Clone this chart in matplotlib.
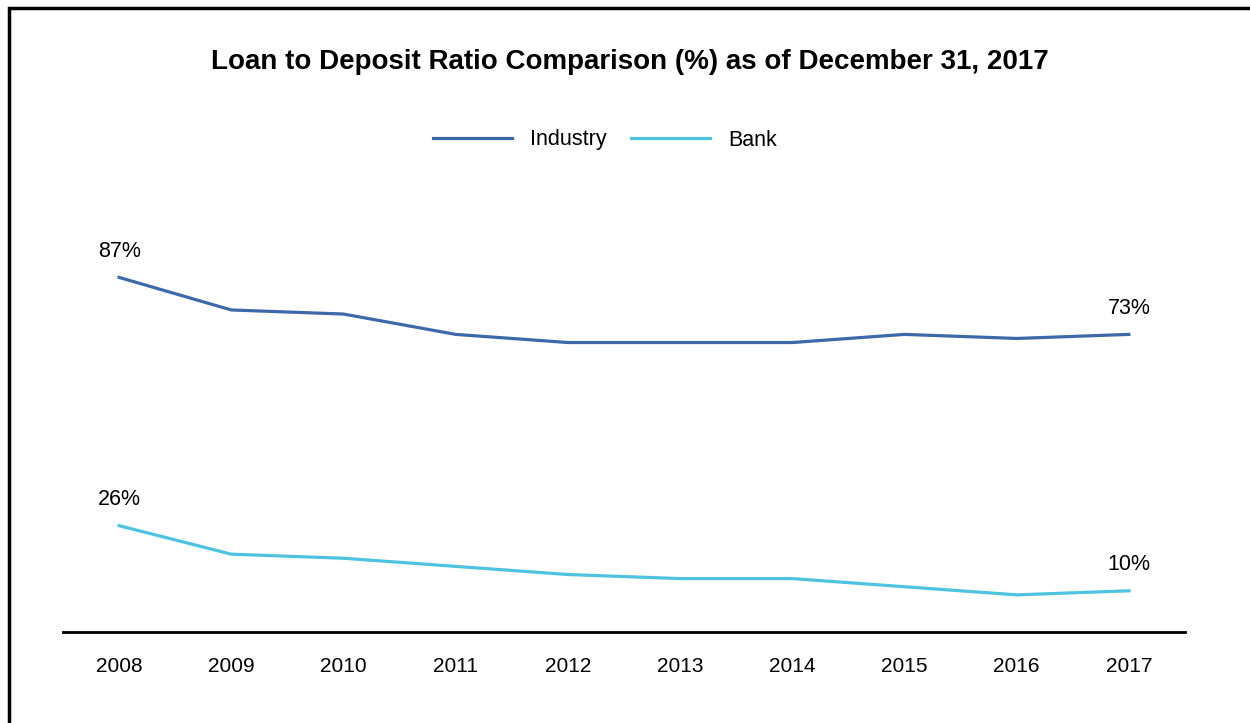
import matplotlib.pyplot as plt
from matplotlib.patches import Rectangle

plt.rcParams['font.family'] = ['Liberation Sans', 'DejaVu Sans']

# Datos del grafico
anios = ['2008', '2009', '2010', '2011', '2012', '2013', '2014', '2015', '2016', '2017']
industria = [87, 79, 78, 73, 71, 71, 71, 73, 72, 73]
banco = [26, 19, 18, 16, 14, 13, 13, 11, 9, 10]

color_industria = '#3D69AA'
color_banco = '#4EC3E0'

fig = plt.figure(figsize=(12.5, 7.23), dpi=100)
ax = fig.add_axes([63 / 1250, 1 - 631.5 / 723, (1185 - 63) / 1250, (631.5 - 150) / 723])

x = range(len(anios))
ax.plot(x, industria, color=color_industria, lw=2.3, label='Industry')
ax.plot(x, banco, color=color_banco, lw=2.3, label='Bank')

# Etiquetas solo en el primer y ultimo punto
for serie in (industria, banco):
    for i in (0, len(serie) - 1):
        ax.annotate(f'{serie[i]}%', (i, serie[i]), xytext=(0, 19), textcoords='offset points',
                    ha='center', va='center', fontsize=15.5)

ax.set_xlim(-0.5, len(anios) - 0.5)
ax.set_ylim(0, (631.5 - 150) / 4.07)
ax.set_xticks(list(x))
ax.set_xticklabels(anios, fontsize=15)
ax.tick_params(axis='x', length=0, pad=18)
ax.set_yticks([])
for lado in ('top', 'right', 'left'):
    ax.spines[lado].set_visible(False)
ax.spines['bottom'].set_linewidth(2)

fig.text(0.504, 1 - 62 / 723, 'Loan to Deposit Ratio Comparison (%) as of December 31, 2017',
         ha='center', va='center', fontsize=20, fontweight='bold')
fig.legend(loc='center', bbox_to_anchor=(605 / 1250, 1 - 140 / 723), ncol=2, frameon=False,
           fontsize=15.5, handlelength=3.7, handletextpad=0.85, columnspacing=1.1)

# Marco exterior
fig.patches.append(Rectangle((8.5 / 1250, -0.1), 1.2, 1 - 8.5 / 723 + 0.1, transform=fig.transFigure,
                             fill=False, edgecolor='black', lw=2.5))

fig.savefig('out.png', dpi=100)
